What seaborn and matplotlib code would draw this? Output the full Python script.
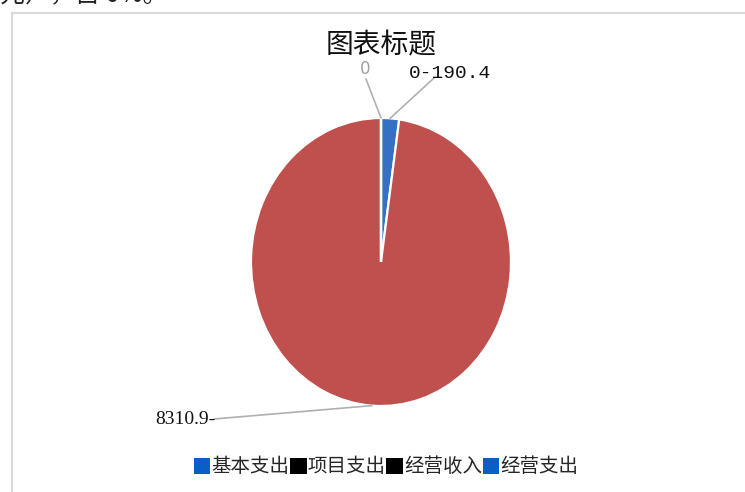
import matplotlib
matplotlib.use("Agg")
import matplotlib.pyplot as plt
import matplotlib.patches as mpatches
import seaborn as sns
import numpy as np

sns.set_theme(style="white")
plt.rcParams['font.family'] = ['Noto Sans CJK SC', 'DejaVu Sans']

# ---- data ----
categories = ["基本支出", "项目支出", "经营收入", "经营支出"]
slice_values = [190.4, 8310.9, 0, 0]
slice_colors = ["#3570C4", "#C0504D", "#000000", "#3570C4"]
legend_colors = ["#0A5FC6", "#000000", "#000000", "#0A5FC6"]
title = "图表标题"
top_note = "元），占 0%。"

W, H = 745, 492
fig = plt.figure(figsize=(W / 100, H / 100), dpi=100)
fig.patch.set_facecolor("white")

# frame of the chart area
fig.patches.append(mpatches.Rectangle((12 / W, -0.1), 1.2, (H - 13) / H + 0.1,
                                      transform=fig.transFigure, fill=False,
                                      edgecolor="#D9D9D9", linewidth=1.5))
fig.text(0.0, 1.0 + 0.012, top_note, fontsize=18, ha="left", va="center", color="#222222")

cx, cy, rx, ry = 381, 262, 130, 144
ax = fig.add_axes([(cx - rx) / W, (H - cy - ry) / H, 2 * rx / W, 2 * ry / H])
wedges, _ = ax.pie(slice_values, colors=slice_colors, startangle=90, counterclock=False,
                   wedgeprops=dict(edgecolor="white", linewidth=1.6), radius=1.0)
ax.set_aspect("auto")
ax.set_xlim(-1, 1)
ax.set_ylim(-1, 1)
ax.axis("off")


def px2d(px, py):
    return (px - cx) / rx, (cy - py) / ry


def edge_point(w):
    a = np.deg2rad((w.theta1 + w.theta2) / 2)
    return np.cos(a), np.sin(a)


def fmt(v):
    return f"{v:g}"

line_kw = dict(color="#B0B0B0", linewidth=1.2, clip_on=False, solid_capstyle="round")

# label for the zero slice (left)
p = edge_point(wedges[2])
e = px2d(366, 79)
ax.plot([p[0], e[0]], [p[1], e[1]], **line_kw)
t = px2d(365, 69)
ax.text(t[0], t[1], fmt(slice_values[2]), ha="center", va="center", fontsize=12,
        color="#A0A0A0", family="DejaVu Sans")

# combined label for zero slice + 190.4 slice
p = edge_point(wedges[0])
e = px2d(434, 78)
ax.plot([p[0], e[0]], [p[1], e[1]], **line_kw)
t = px2d(409, 73)
ax.text(t[0], t[1], f"{fmt(slice_values[3])}-{fmt(slice_values[0])}", ha="left", va="center",
        fontsize=14, color="#111111", family="Liberation Mono")

# label for the big slice
p = edge_point(wedges[1])
e = px2d(214, 419)
ax.plot([p[0], e[0]], [p[1], e[1]], **line_kw)
t = px2d(215, 419)
ax.text(t[0], t[1], f"{fmt(slice_values[1])}-", ha="right", va="center", fontsize=14,
        color="#111111", family="Liberation Serif")

fig.text(381 / W, (H - 45) / H, title, ha="center", va="center", fontsize=20, color="#111111")

handles = [mpatches.Patch(facecolor=c, edgecolor="none") for c in legend_colors]
fig.legend(handles, categories, loc="center", bbox_to_anchor=(386 / W, (H - 467) / H),
           ncol=4, frameon=False, fontsize=14, handlelength=0.85, handleheight=0.85,
           handletextpad=0.05, columnspacing=0.05, borderpad=0)

fig.savefig("out.png", dpi=100, facecolor="white")
